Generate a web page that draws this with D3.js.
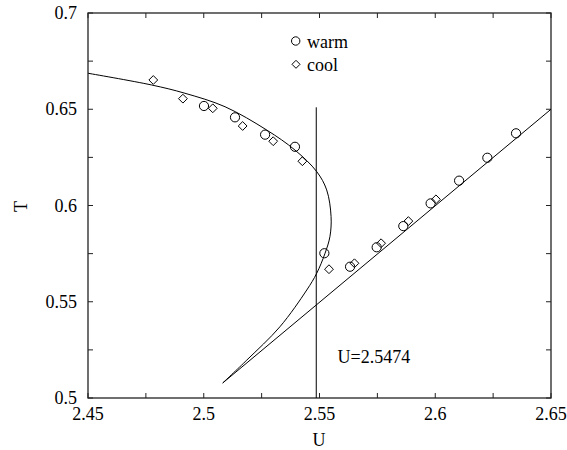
<!DOCTYPE html>
<html>
<head>
<meta charset="utf-8">
<script src="https://cdn.jsdelivr.net/npm/d3@7"></script>
<style>
  html, body { margin: 0; padding: 0; background: #fff; }
  svg { display: block; }
  text { font-family: "Liberation Serif", "Times New Roman", serif; fill: #000; }
</style>
</head>
<body>
<svg id="chart" width="567" height="450"></svg>
<script>
// ---- data ----
const curveU = [2.4500, 2.4775, 2.4919, 2.5092, 2.5272, 2.5394, 2.5488, 2.5531, 2.5550, 2.5545, 2.5524, 2.5488, 2.5445, 2.5329, 2.5186, 2.5082];
const curveT = [0.6687, 0.6626, 0.6583, 0.6513, 0.6392, 0.6288, 0.6176, 0.6081, 0.5942, 0.5838, 0.5752, 0.5648, 0.5561, 0.5370, 0.5197, 0.5078];
const lineU = [2.5082, 2.6500];
const lineT = [0.5078, 0.6500];

const warmU = [2.5001, 2.5135, 2.5265, 2.5394, 2.5521, 2.5632, 2.5747, 2.5862, 2.5980, 2.6103, 2.6225, 2.6349];
const warmT = [0.6517, 0.6458, 0.6368, 0.6305, 0.5752, 0.5682, 0.5783, 0.5893, 0.6011, 0.6129, 0.6248, 0.6375];
const coolU = [2.4782, 2.4910, 2.5039, 2.5168, 2.5300, 2.5426, 2.5541, 2.5651, 2.5766, 2.5884, 2.6003];
const coolT = [0.6652, 0.6555, 0.6505, 0.6413, 0.6334, 0.6230, 0.5669, 0.5700, 0.5804, 0.5919, 0.6032];

const vLineU = 2.5486;
const vLineT = [0.5, 0.6510];
const vLineLabel = "U=2.5474";
const legendLabels = ["warm", "cool"];

const xTicks = [2.45, 2.5, 2.55, 2.6, 2.65];
const xTickLabels = ["2.45", "2.5", "2.55", "2.6", "2.65"];
const yTicks = [0.5, 0.55, 0.6, 0.65, 0.7];
const yTickLabels = ["0.5", "0.55", "0.6", "0.65", "0.7"];
const xMinor = [2.475, 2.525, 2.575, 2.625];
const yMinor = [0.525, 0.575, 0.625, 0.675];

// ---- layout ----
const L = 88, R = 551, T = 13, B = 398;
const svg = d3.select("#chart");
const x = d3.scaleLinear().domain([2.45, 2.65]).range([L, R]);
const y = d3.scaleLinear().domain([0.5, 0.7]).range([B, T]);

const fs = 18;
const frameColor = "#222";

// frame
svg.append("rect").attr("x", L).attr("y", T).attr("width", R - L).attr("height", B - T)
  .attr("fill", "none").attr("stroke", frameColor).attr("stroke-width", 1.3);

// ticks (inward, all sides)
const tickLen = 5;
const g = svg.append("g").attr("stroke", frameColor).attr("stroke-width", 1);
[...xTicks, ...xMinor].forEach(v => {
  g.append("line").attr("x1", x(v)).attr("x2", x(v)).attr("y1", B).attr("y2", B - tickLen);
  g.append("line").attr("x1", x(v)).attr("x2", x(v)).attr("y1", T).attr("y2", T + tickLen);
});
[...yTicks, ...yMinor].forEach(v => {
  g.append("line").attr("y1", y(v)).attr("y2", y(v)).attr("x1", L).attr("x2", L + tickLen);
  g.append("line").attr("y1", y(v)).attr("y2", y(v)).attr("x1", R).attr("x2", R - tickLen);
});

// tick labels
xTicks.forEach((v, i) => {
  svg.append("text").attr("x", x(v)).attr("y", B + 22).attr("text-anchor", "middle")
    .attr("font-size", fs).text(xTickLabels[i]);
});
yTicks.forEach((v, i) => {
  svg.append("text").attr("x", L - 11).attr("y", y(v) + 6).attr("text-anchor", "end")
    .attr("font-size", fs).text(yTickLabels[i]);
});

// axis titles
svg.append("text").attr("x", (L + R) / 2 - 0.5).attr("y", 446).attr("text-anchor", "middle")
  .attr("font-size", fs).text("U");
svg.append("text").attr("transform", `translate(27,${(T + B) / 2 + 1}) rotate(-90)`)
  .attr("text-anchor", "middle").attr("font-size", fs).text("T");

// curve
const curveData = curveU.map((u, i) => [u, curveT[i]]);
const lineGen = d3.line().x(d => x(d[0])).y(d => y(d[1])).curve(d3.curveCatmullRom.alpha(0.5));
svg.append("path").attr("d", lineGen(curveData)).attr("fill", "none").attr("stroke", "#000").attr("stroke-width", 1);

const straight = lineU.map((u, i) => [u, lineT[i]]);
svg.append("path").attr("d", d3.line().x(d => x(d[0])).y(d => y(d[1]))(straight))
  .attr("fill", "none").attr("stroke", "#000").attr("stroke-width", 1);

// vertical line
svg.append("line").attr("x1", x(vLineU)).attr("x2", x(vLineU)).attr("y1", y(vLineT[0])).attr("y2", y(vLineT[1]))
  .attr("stroke", "#000").attr("stroke-width", 1);
svg.append("text").attr("x", 337.5).attr("y", 363).attr("font-size", fs).text(vLineLabel);

// markers
const diamond = (cx, cy, h) => `M${cx},${cy - h}L${cx + h},${cy}L${cx},${cy + h}L${cx - h},${cy}Z`;
warmU.forEach((u, i) => {
  svg.append("circle").attr("cx", x(u)).attr("cy", y(warmT[i])).attr("r", 4.6)
    .attr("fill", "none").attr("stroke", "#000").attr("stroke-width", 1);
});
coolU.forEach((u, i) => {
  svg.append("path").attr("d", diamond(x(u), y(coolT[i]), 4.4))
    .attr("fill", "none").attr("stroke", "#000").attr("stroke-width", 1);
});

// legend
svg.append("circle").attr("cx", 295.7).attr("cy", 41).attr("r", 4.2)
  .attr("fill", "none").attr("stroke", "#000").attr("stroke-width", 1);
svg.append("text").attr("x", 307).attr("y", 47.5).attr("font-size", fs).text(legendLabels[0]);
svg.append("path").attr("d", diamond(296, 64.3, 4))
  .attr("fill", "none").attr("stroke", "#000").attr("stroke-width", 1);
svg.append("text").attr("x", 307).attr("y", 70.5).attr("font-size", fs).text(legendLabels[1]);
</script>
</body>
</html>
